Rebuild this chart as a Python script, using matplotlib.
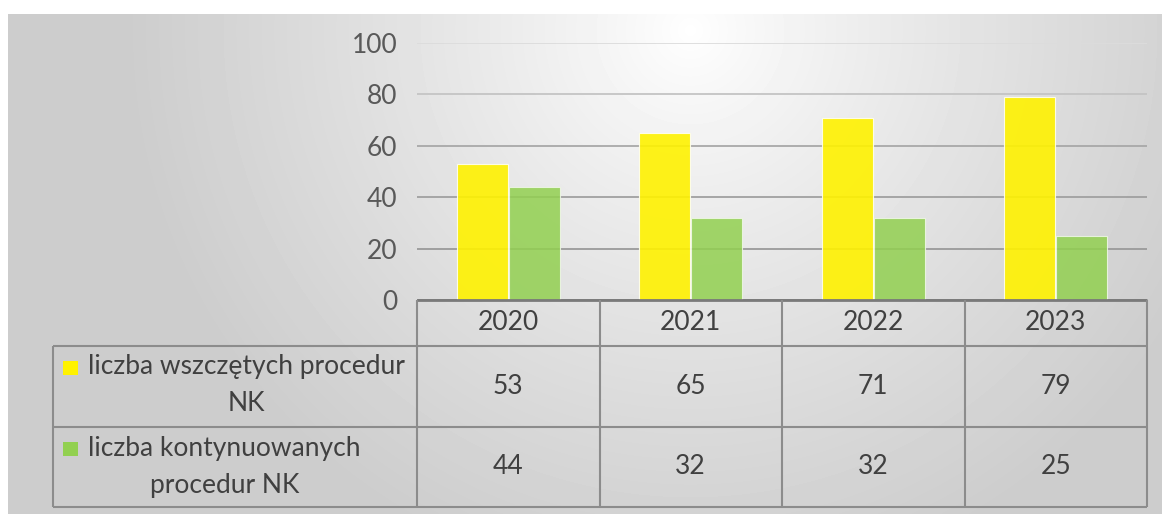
import numpy as np
import matplotlib
matplotlib.use('Agg')
import matplotlib.pyplot as plt
from matplotlib.patches import Rectangle

# ---- data ----
years = ['2020', '2021', '2022', '2023']
series_labels = ['liczba wszczętych procedur\nNK', 'liczba kontynuowanych\nprocedur NK']
started = [53, 65, 71, 79]
continued = [44, 32, 32, 25]
y_ticks = [0, 20, 40, 60, 80, 100]

colors = ['#FFF200', '#92D050']
text_color = '#404040'

plt.rcParams['font.family'] = ['Lato', 'DejaVu Sans']

W, H = 1162, 514
fig = plt.figure(figsize=(W / 100, H / 100), dpi=100)
fig.patch.set_facecolor('white')

# ---- background gradient ----
bg = fig.add_axes([8 / W, 0, (W - 8) / W, (H - 14) / H])
yy, xx = np.mgrid[14:H, 8:W]
d = np.hypot(xx - 690, (yy - 30) * 1.0) / 560
t = np.clip(d, 0, 1) ** 0.85
c = 1 - t * (1 - 0xCD / 255)
bg.imshow(c, cmap='gray', vmin=0, vmax=1, extent=[0, 1, 0, 1], aspect='auto', origin='upper')
bg.axis('off')

# ---- plot area ----
left_px, right_px, top_px, base_px = 417, 1147, 43, 300
ax = fig.add_axes([left_px / W, (H - base_px) / H, (right_px - left_px) / W, (base_px - top_px) / H])
ax.patch.set_alpha(0)
x = np.arange(len(years))
bw = 0.28
off = 0.143
ax.bar(x - off, started, bw, color=colors[0], alpha=0.9, edgecolor='#FFFFF0', linewidth=0.8, zorder=3)
ax.bar(x + off, continued, bw, color=colors[1], alpha=0.85, edgecolor='#F0F8E8', linewidth=0.8, zorder=3)
ax.set_xlim(-0.5, len(years) - 0.5)
ax.set_ylim(0, 100)
ax.set_yticks(y_ticks)
ax.set_xticks([])
ax.grid(axis='y', linewidth=1.3, zorder=1)
grid_cols = ['#808080', '#9A9A9A', '#A0A0A0', '#A8A8A8', '#C4C4C4', '#DCDCDC']
for gl, gc in zip(ax.get_ygridlines(), grid_cols):
    gl.set_color(gc)
ax.set_axisbelow(True)
for s in ax.spines.values():
    s.set_visible(False)
ax.tick_params(axis='y', length=0, pad=14, labelsize=19, labelcolor='#595959')

# ---- data table overlay (pixel coordinates) ----
ov = fig.add_axes([0, 0, 1, 1])
ov.set_xlim(0, W)
ov.set_ylim(H, 0)
ov.axis('off')
ov.patch.set_alpha(0)

n = len(years)
col_w = (right_px - left_px) / n
tab_left = 53
row_y = [300, 346, 427, 507]
lc = '#8C8C8C'
lw = 1.5
ov.plot([left_px, right_px], [row_y[0], row_y[0]], color='#7A7A7A', lw=2.0, solid_capstyle='butt')
for yv in row_y[1:]:
    ov.plot([tab_left, right_px], [yv, yv], color=lc, lw=lw, solid_capstyle='butt')
for i in range(n + 1):
    xv = left_px + i * col_w
    ov.plot([xv, xv], [row_y[0], row_y[-1]], color=lc, lw=lw, solid_capstyle='butt')
ov.plot([tab_left, tab_left], [row_y[1], row_y[-1]], color=lc, lw=lw, solid_capstyle='butt')

fs = 19
for i, yr in enumerate(years):
    cx = left_px + (i + 0.5) * col_w
    ov.text(cx, 323, yr, ha='center', va='center', fontsize=fs, color=text_color)
    ov.text(cx, 387, str(started[i]), ha='center', va='center', fontsize=fs, color=text_color)
    ov.text(cx, 467, str(continued[i]), ha='center', va='center', fontsize=fs, color=text_color)

for k, (lab, yc) in enumerate(zip(series_labels, [385, 467])):
    key_y = 361 if k == 0 else 442
    ov.add_patch(Rectangle((63, key_y), 15, 14, facecolor=colors[k], edgecolor='none'))
    ov.text(88, yc, lab, ha='left', va='center', multialignment='center',
            fontsize=fs, color=text_color, linespacing=1.6)

fig.savefig('out.png', dpi=100)
